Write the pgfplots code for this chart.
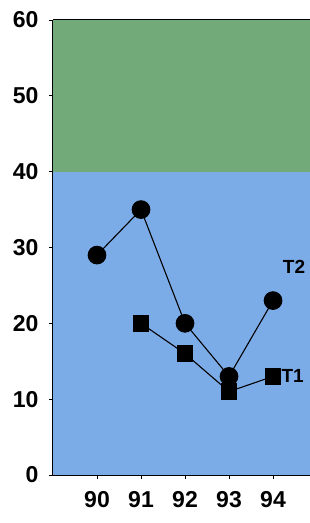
\documentclass[border=0pt]{standalone}
\usepackage{pgfplots}
\pgfplotsset{compat=1.18}
\usepackage{fontspec}
\setmainfont{Liberation Sans}
\definecolor{bandgreen}{RGB}{114,170,122}
\definecolor{bandblue}{RGB}{124,172,232}
\begin{document}
\begin{tikzpicture}[x=1pt,y=1pt]
\path[use as bounding box] (-53,-48) rectangle (257,475);
\begin{axis}[
  at={(0,0)}, anchor=south west,
  scale only axis, width=257pt, height=455pt,
  xmin=89, xmax=94.84, ymin=0, ymax=60,
  axis x line*=bottom, axis y line*=left,
  axis line style={line width=1pt, -},
  axis on top,
  tick align=outside, major tick length=4pt,
  tick style={line width=0.8pt, black},
  xtick={90,91,92,93,94}, ytick={0,10,20,30,40,50,60},
  /pgf/number format/assume math mode=true,
  /pgf/number format/1000 sep={},
  ticklabel style={font=\fontsize{23}{23}\selectfont\bfseries},
  yticklabel style={xshift=-7pt},
  xticklabel style={yshift=-9pt},
  after end axis/.code={\draw[line width=1pt] (rel axis cs:0,1) -- (rel axis cs:1,1);},
]
\fill[bandgreen] (axis cs:89,40) rectangle (axis cs:94.84,60);
\fill[bandblue] (axis cs:89,0) rectangle (axis cs:94.84,40);
\addplot[black, line width=1.1pt, mark=*, mark size=8.8pt, mark options={fill=black}]
  coordinates {(90,29) (91,35) (92,20) (93,13) (94,23)};
\addplot[black, line width=1.1pt, mark=square*, mark size=7.8pt, mark options={fill=black}]
  coordinates {(91,20) (92,16) (93,11) (94,13)};
\node[font=\fontsize{19}{19}\selectfont\bfseries, anchor=west, inner sep=0pt] at (axis cs:94.22,27.5) {T2};
\node[font=\fontsize{19}{19}\selectfont\bfseries, anchor=west, inner sep=0pt] at (axis cs:94.19,13) {T1};
\end{axis}
\end{tikzpicture}
\end{document}
